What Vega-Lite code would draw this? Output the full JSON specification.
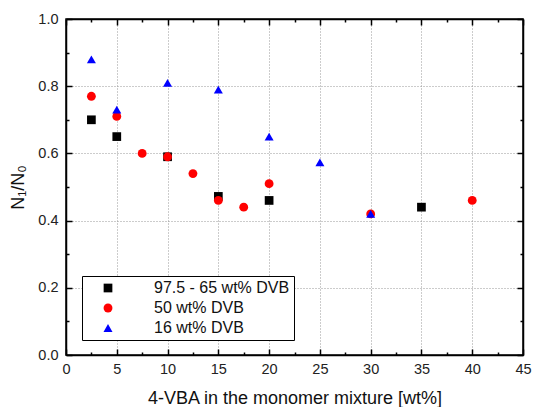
{
  "$schema": "https://vega.github.io/schema/vega-lite/v6.json",
  "width": 457,
  "height": 336,
  "autosize": {"type": "none"},
  "padding": {"left": 66, "top": 19, "right": 10, "bottom": 52},
  "config": {
    "view": {"stroke": "black", "strokeWidth": 1.5},
    "font": "Liberation Sans",
    "axis": {"labelFont": "Liberation Sans", "titleFont": "Liberation Sans"},
    "legend": {"labelFont": "Liberation Sans", "titleFont": "Liberation Sans"}
  },
  "data": {
    "values": [
      {"x": 2.5, "y": 0.70, "series": "97.5 - 65 wt% DVB"},
      {"x": 5, "y": 0.65, "series": "97.5 - 65 wt% DVB"},
      {"x": 10, "y": 0.59, "series": "97.5 - 65 wt% DVB"},
      {"x": 15, "y": 0.472, "series": "97.5 - 65 wt% DVB"},
      {"x": 20, "y": 0.46, "series": "97.5 - 65 wt% DVB"},
      {"x": 35, "y": 0.44, "series": "97.5 - 65 wt% DVB"},
      {"x": 2.5, "y": 0.77, "series": "50 wt% DVB"},
      {"x": 5, "y": 0.71, "series": "50 wt% DVB"},
      {"x": 7.5, "y": 0.60, "series": "50 wt% DVB"},
      {"x": 10, "y": 0.59, "series": "50 wt% DVB"},
      {"x": 12.5, "y": 0.54, "series": "50 wt% DVB"},
      {"x": 15, "y": 0.46, "series": "50 wt% DVB"},
      {"x": 17.5, "y": 0.44, "series": "50 wt% DVB"},
      {"x": 20, "y": 0.51, "series": "50 wt% DVB"},
      {"x": 30, "y": 0.42, "series": "50 wt% DVB"},
      {"x": 40, "y": 0.46, "series": "50 wt% DVB"},
      {"x": 2.5, "y": 0.88, "series": "16 wt% DVB"},
      {"x": 5, "y": 0.73, "series": "16 wt% DVB"},
      {"x": 10, "y": 0.81, "series": "16 wt% DVB"},
      {"x": 15, "y": 0.79, "series": "16 wt% DVB"},
      {"x": 20, "y": 0.65, "series": "16 wt% DVB"},
      {"x": 25, "y": 0.573, "series": "16 wt% DVB"},
      {"x": 30, "y": 0.42, "series": "16 wt% DVB"}
    ]
  },
  "layer": [
    {
      "mark": {"type": "point", "filled": true, "opacity": 1},
      "encoding": {
        "x": {
          "field": "x", "type": "quantitative",
          "scale": {"domain": [0, 45], "nice": false, "zero": false},
          "axis": {
            "orient": "bottom",
            "values": [0, 5, 10, 15, 20, 25, 30, 35, 40, 45],
            "title": "4-VBA in the monomer mixture [wt%]",
            "titleFontSize": 18,
            "titleFontWeight": "normal",
            "titleColor": "#111",
            "titlePadding": 14,
            "labelFontSize": 14.5,
            "labelColor": "#222",
            "labelPadding": 13,
            "labelFlush": false,
            "labelOverlap": false,
            "tickColor": "black",
            "tickWidth": 1.5,
            "tickSize": -6,
            "domainColor": "black",
            "domainWidth": 1.5,
            "grid": true,
            "gridDash": [1, 2],
            "gridColor": "#999",
            "gridWidth": 1
          }
        },
        "y": {
          "field": "y", "type": "quantitative",
          "scale": {"domain": [0, 1], "nice": false},
          "axis": {
            "orient": "left",
            "values": [0, 0.2, 0.4, 0.6, 0.8, 1.0],
            "format": ".1f",
            "title": "N₁/N₀",
            "titleFontSize": 18,
            "titleFontWeight": "normal",
            "titleColor": "#111",
            "titlePadding": 10,
            "labelFontSize": 14.5,
            "labelColor": "#222",
            "labelPadding": 14,
            "labelFlush": false,
            "labelOverlap": false,
            "tickColor": "black",
            "tickWidth": 1.5,
            "tickSize": -6,
            "domainColor": "black",
            "domainWidth": 1.5,
            "grid": true,
            "gridDash": [1, 2],
            "gridColor": "#999",
            "gridWidth": 1
          }
        },
        "color": {
          "field": "series", "type": "nominal",
          "scale": {"domain": ["97.5 - 65 wt% DVB", "50 wt% DVB", "16 wt% DVB"], "range": ["#000000", "#ff0000", "#0000ff"]},
          "legend": {
            "orient": "none",
            "legendX": 16,
            "legendY": 257,
            "title": null,
            "strokeColor": "black",
            "fillColor": "white",
            "padding": 4,
            "labelFont": "Liberation Sans",
            "labelFontSize": 16,
            "labelColor": "#111",
            "symbolSize": 64,
            "symbolOffset": 14,
            "labelOffset": 38,
            "rowPadding": 4
          }
        },
        "shape": {
          "field": "series", "type": "nominal",
          "scale": {"domain": ["97.5 - 65 wt% DVB", "50 wt% DVB", "16 wt% DVB"], "range": ["square", "circle", "triangle-up"]},
          "legend": {
            "orient": "none",
            "legendX": 16,
            "legendY": 257,
            "title": null,
            "strokeColor": "black",
            "fillColor": "white",
            "padding": 4,
            "labelFont": "Liberation Sans",
            "labelFontSize": 16,
            "labelColor": "#111",
            "symbolSize": 64,
            "symbolOffset": 14,
            "labelOffset": 38,
            "rowPadding": 4
          }
        },
        "size": {
          "field": "series", "type": "nominal",
          "scale": {"domain": ["97.5 - 65 wt% DVB", "50 wt% DVB", "16 wt% DVB"], "range": [76, 81, 105]},
          "legend": null
        }
      }
    },
    {
      "mark": {"type": "point", "opacity": 0},
      "encoding": {
        "x": {
          "field": "x", "type": "quantitative",
          "axis": {
            "orient": "top",
            "values": [0, 5, 10, 15, 20, 25, 30, 35, 40, 45],
            "labels": false, "title": null, "grid": false,
            "tickColor": "black", "tickWidth": 1.5, "tickSize": -6,
            "domainColor": "black", "domainWidth": 1.5
          }
        },
        "y": {
          "field": "y", "type": "quantitative",
          "axis": {
            "orient": "right",
            "values": [0, 0.2, 0.4, 0.6, 0.8, 1.0],
            "labels": false, "title": null, "grid": false,
            "tickColor": "black", "tickWidth": 1.5, "tickSize": -6,
            "domainColor": "black", "domainWidth": 1.5
          }
        }
      }
    },
    {
      "mark": {"type": "point", "opacity": 0},
      "encoding": {
        "x": {
          "field": "x", "type": "quantitative",
          "axis": {
            "orient": "bottom",
            "values": [2.5, 7.5, 12.5, 17.5, 22.5, 27.5, 32.5, 37.5, 42.5],
            "labels": false, "title": null, "grid": false, "domain": false,
            "tickColor": "black", "tickWidth": 1.5, "tickSize": -3
          }
        },
        "y": {
          "field": "y", "type": "quantitative",
          "axis": {
            "orient": "left",
            "values": [0.1, 0.3, 0.5, 0.7, 0.9],
            "labels": false, "title": null, "grid": false, "domain": false,
            "tickColor": "black", "tickWidth": 1.5, "tickSize": -3
          }
        }
      }
    },
    {
      "mark": {"type": "point", "opacity": 0},
      "encoding": {
        "x": {
          "field": "x", "type": "quantitative",
          "axis": {
            "orient": "top",
            "values": [2.5, 7.5, 12.5, 17.5, 22.5, 27.5, 32.5, 37.5, 42.5],
            "labels": false, "title": null, "grid": false, "domain": false,
            "tickColor": "black", "tickWidth": 1.5, "tickSize": -3
          }
        },
        "y": {
          "field": "y", "type": "quantitative",
          "axis": {
            "orient": "right",
            "values": [0.1, 0.3, 0.5, 0.7, 0.9],
            "labels": false, "title": null, "grid": false, "domain": false,
            "tickColor": "black", "tickWidth": 1.5, "tickSize": -3
          }
        }
      }
    }
  ],
  "resolve": {"axis": {"x": "independent", "y": "independent"}}
}
